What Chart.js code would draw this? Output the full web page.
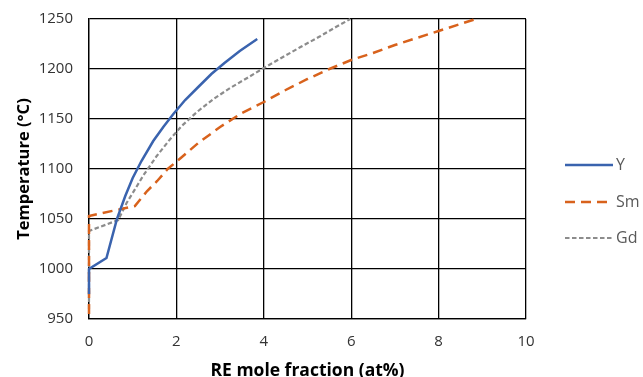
<!DOCTYPE html>
<html>
<head>
<meta charset="utf-8">
<script src="https://cdn.jsdelivr.net/npm/chart.js@4"></script>
<style>
html,body{margin:0;padding:0;background:#fff;overflow:hidden;}
#wrap{width:643px;height:377px;position:relative;overflow:hidden;}
</style>
</head>
<body>
<div id="wrap"><canvas id="c" width="643" height="382"></canvas></div>
<script>
// Data
const seriesNames = ['Y', 'Sm', 'Gd'];
const yX  = [0, 0, 0.4, 0.64, 0.83, 1.0, 1.2, 1.47, 1.7, 1.93, 2.2, 2.5, 2.8, 3.1, 3.45, 3.85];
const yT  = [975, 1000, 1011, 1050, 1073, 1091, 1108, 1128, 1142, 1155, 1169, 1182, 1195, 1206, 1218, 1230];
const smX = [0, 0, 1.05, 1.33, 1.56, 1.8, 2.1, 2.5, 3.0, 3.5, 4.0, 4.5, 5.0, 5.5, 6.0, 6.5, 7.0, 7.5, 8.0, 8.5, 8.85];
const smT = [955, 1053, 1063, 1078, 1088, 1100, 1111, 1126, 1142, 1156, 1167, 1179, 1190, 1200, 1209, 1216, 1224, 1231, 1238, 1245, 1250];
const gdX = [0, 0, 0.67, 0.86, 1.0, 1.25, 1.55, 1.86, 2.12, 2.47, 2.85, 3.23, 3.62, 4.0, 4.4, 4.84, 5.3, 5.65, 5.98];
const gdT = [960, 1038, 1049, 1066, 1076, 1094, 1113, 1130, 1143, 1157, 1170, 1181, 1191, 1201, 1211, 1222, 1233, 1242, 1250];
const xTicks = [0, 2, 4, 6, 8, 10];
const yTicks = [950, 1000, 1050, 1100, 1150, 1200, 1250];

const pts = (xs, ts) => xs.map((x, i) => ({x: x, y: ts[i]}));

const legendPlugin = {
  id: 'sideLegend',
  afterDraw(chart) {
    const ctx = chart.ctx;
    const ys = [165, 202, 238];
    chart.data.datasets.forEach((ds, i) => {
      ctx.save();
      ctx.strokeStyle = ds.borderColor;
      ctx.lineWidth = ds.borderWidth;
      ctx.setLineDash(ds.borderDash || []);
      ctx.beginPath();
      ctx.moveTo(565, ys[i]);
      ctx.lineTo(613, ys[i]);
      ctx.stroke();
      ctx.setLineDash([]);
      ctx.fillStyle = '#595959';
      ctx.font = '16px "Open Sans"';
      ctx.textBaseline = 'middle';
      ctx.fillText(ds.label, 616, ys[i]);
      ctx.restore();
    });
  }
};

new Chart(document.getElementById('c'), {
  type: 'scatter',
  data: {
    datasets: [
      {label: seriesNames[0], data: pts(yX, yT), showLine: true, borderColor: '#3A63AE', borderWidth: 2.5, pointRadius: 0, tension: 0, clip: 2},
      {label: seriesNames[1], data: pts(smX, smT), showLine: true, borderColor: '#D8621C', borderWidth: 2.5, borderDash: [10, 6], pointRadius: 0, tension: 0, clip: 2},
      {label: seriesNames[2], data: pts(gdX, gdT), showLine: true, borderColor: '#8C8C8C', borderWidth: 2.2, borderDash: [4.5, 2.5], pointRadius: 0, tension: 0, clip: 2}
    ]
  },
  options: {
    responsive: false,
    animation: false,
    layout: {padding: {top: 19, right: 117, left: 0, bottom: 0}},
    plugins: {legend: {display: false}, tooltip: {enabled: false}},
    scales: {
      x: {
        type: 'linear', min: 0, max: 10,
        afterBuildTicks: s => { s.ticks = xTicks.map(v => ({value: v})); },
        afterFit: s => { s.height = 63; s.paddingLeft = 0; s.paddingRight = 0; },
        grid: {color: '#000', lineWidth: 1.3, drawTicks: false},
        border: {color: '#000', width: 1.3},
        ticks: {color: '#333', font: {family: 'Open Sans', size: 15}, padding: 14, maxRotation: 0, callback: v => String(v)},
        title: {display: true, text: 'RE mole fraction (at%)', color: '#000', font: {family: 'Open Sans', size: 17.5, weight: 'bold'}, padding: {top: 0, bottom: 0}}
      },
      y: {
        type: 'linear', min: 950, max: 1250,
        afterBuildTicks: s => { s.ticks = yTicks.map(v => ({value: v})); },
        afterFit: s => { s.width = 89; s.paddingTop = 0; s.paddingBottom = 0; },
        grid: {color: '#000', lineWidth: 1.3, drawTicks: false},
        border: {color: '#000', width: 1.3},
        ticks: {color: '#333', font: {family: 'Open Sans', size: 15}, padding: 16, callback: v => String(v)},
        title: {display: true, text: 'Temperature (°C)', color: '#000', font: {family: 'Open Sans', size: 16.5, weight: 'bold'}, padding: {top: 14, bottom: 0}}
      }
    }
  },
  plugins: [legendPlugin]
});
</script>
</body>
</html>
